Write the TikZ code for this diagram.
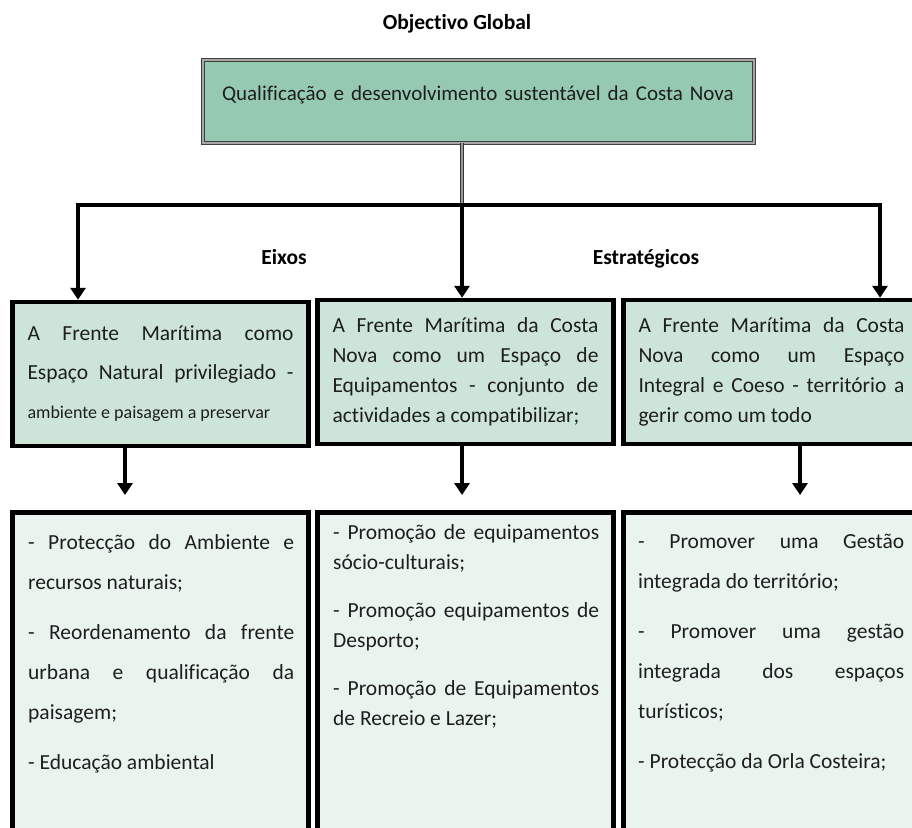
\documentclass[tikz,border=0pt]{standalone}
\usepackage{fontspec}
\setmainfont{Carlito}[Ligatures=NoCommon]
\usepackage{xcolor}
\usetikzlibrary{arrows.meta}

\definecolor{topgreen}{HTML}{95C9B1}
\definecolor{midgreen}{HTML}{CDE5D9}
\definecolor{lowgreen}{HTML}{E9F4EE}
\definecolor{ink}{HTML}{1E1E1E}

\tolerance=10000
\hyphenpenalty=10000

\begin{document}
\begin{tikzpicture}[
  x=1pt, y=-1pt,  topbox/.style={draw=black!75,double=black!35,double distance=1.6pt,line width=0.9pt,fill=topgreen,minimum width=551pt,minimum height=83pt,text width=513pt,align=left,text depth=17pt,font=\fontsize{21}{25}\selectfont,text=ink},  axbox/.style={draw=black,line width=4.5pt,fill=midgreen,minimum width=296pt,minimum height=144pt,text width=266pt,align=justify,text=ink},  actbox/.style={draw=black,line width=4.5pt,fill=lowgreen,minimum width=296pt,minimum height=360pt,anchor=north},  acttext/.style={anchor=north west,inner sep=0pt,text width=266pt,align=justify,text=ink},  hdr/.style={anchor=base,font=\fontsize{21.5}{25}\selectfont\bfseries,text=black},  bar/.style={line width=4.5pt},  arr/.style={line width=4.5pt,-{Triangle[width=15pt,length=12pt]}}
]
  \useasboundingbox (0,0) rectangle (912,827);
  \clip (0,0) rectangle (912,827);
  \fill[white] (0,0) rectangle (912,827);

  \node[hdr] (goal) at (457,29) {Objectivo Global};
  \node[topbox] (top) at (478.5,101.5) {Qualificação e desenvolvimento sustentável da Costa Nova};

  \node[hdr] (eix) at (284,264) {Eixos};
  \node[hdr] (est) at (646,264) {Estratégicos};

  \node[axbox,font=\fontsize{21.5}{39}\selectfont] (ax1) at (160.5,374) {A Frente Marítima como\linebreak Espaço Natural privilegiado -\linebreak {\fontsize{18}{39}\selectfont ambiente e paisagem a preservar}};
  \node[axbox,font=\fontsize{21.5}{30}\selectfont] (ax2) at (465.5,372) {A Frente Marítima da Costa\linebreak Nova como um Espaço de\linebreak Equipamentos - conjunto de\linebreak actividades a compatibilizar;};
  \node[axbox,font=\fontsize{21.5}{30}\selectfont] (ax3) at (771.5,372) {A Frente Marítima da Costa\linebreak Nova como um Espaço\linebreak Integral e Coeso - território a\linebreak gerir como um todo};

  \node[actbox] (ac1) at (160.5,510) {};
  \node[actbox] (ac2) at (465.5,510) {};
  \node[actbox] (ac3) at (771.5,510) {};

  \node[acttext,font=\fontsize{21.5}{40}\selectfont] (t1) at (28,534) {\parindent=0pt\parskip=10pt
    - Protecção do Ambiente e\linebreak recursos naturais;\par
    - Reordenamento da frente\linebreak urbana e qualificação da\linebreak paisagem;\par
    - Educação ambiental};
  \node[acttext,font=\fontsize{21.5}{30}\selectfont] (t2) at (333,524) {\parindent=0pt\parskip=18pt
    - Promoção de equipamentos\linebreak sócio-culturais;\par
    - Promoção equipamentos de\linebreak Desporto;\par
    - Promoção de Equipamentos\linebreak de Recreio e Lazer;};
  \node[acttext,font=\fontsize{21.5}{40}\selectfont] (t3) at (638,534) {\parindent=0pt\parskip=10pt
    - Promover uma Gestão\linebreak integrada do território;\par
    - Promover uma gestão\linebreak integrada dos espaços\linebreak turísticos;\par
    - Protecção da Orla Costeira;};

  % branching from the global objective
  \coordinate (jl) at (78,205);
  \coordinate (jm) at (462,205);
  \coordinate (jr) at (880,205);
  \draw[draw=black!80,double=black!40,double distance=2pt,line width=0.9pt] (jm |- top.south) -- (jm);
  \draw[bar] ([xshift=-2.25pt]jl) -- ([xshift=2.25pt]jr);
  \draw[arr] (jl) -- (jl |- ax1.north);
  \draw[arr] (jm) -- (jm |- ax2.north);
  \draw[arr] (jr) -- (jr |- ax3.north);

  % axes to actions
  \coordinate (d1) at (125,495);
  \coordinate (d2) at (462,495);
  \coordinate (d3) at (800,495);
  \draw[arr] (ax1.south -| d1) -- (d1);
  \draw[arr] (ax2.south -| d2) -- (d2);
  \draw[arr] (ax3.south -| d3) -- (d3);
\end{tikzpicture}
\end{document}
